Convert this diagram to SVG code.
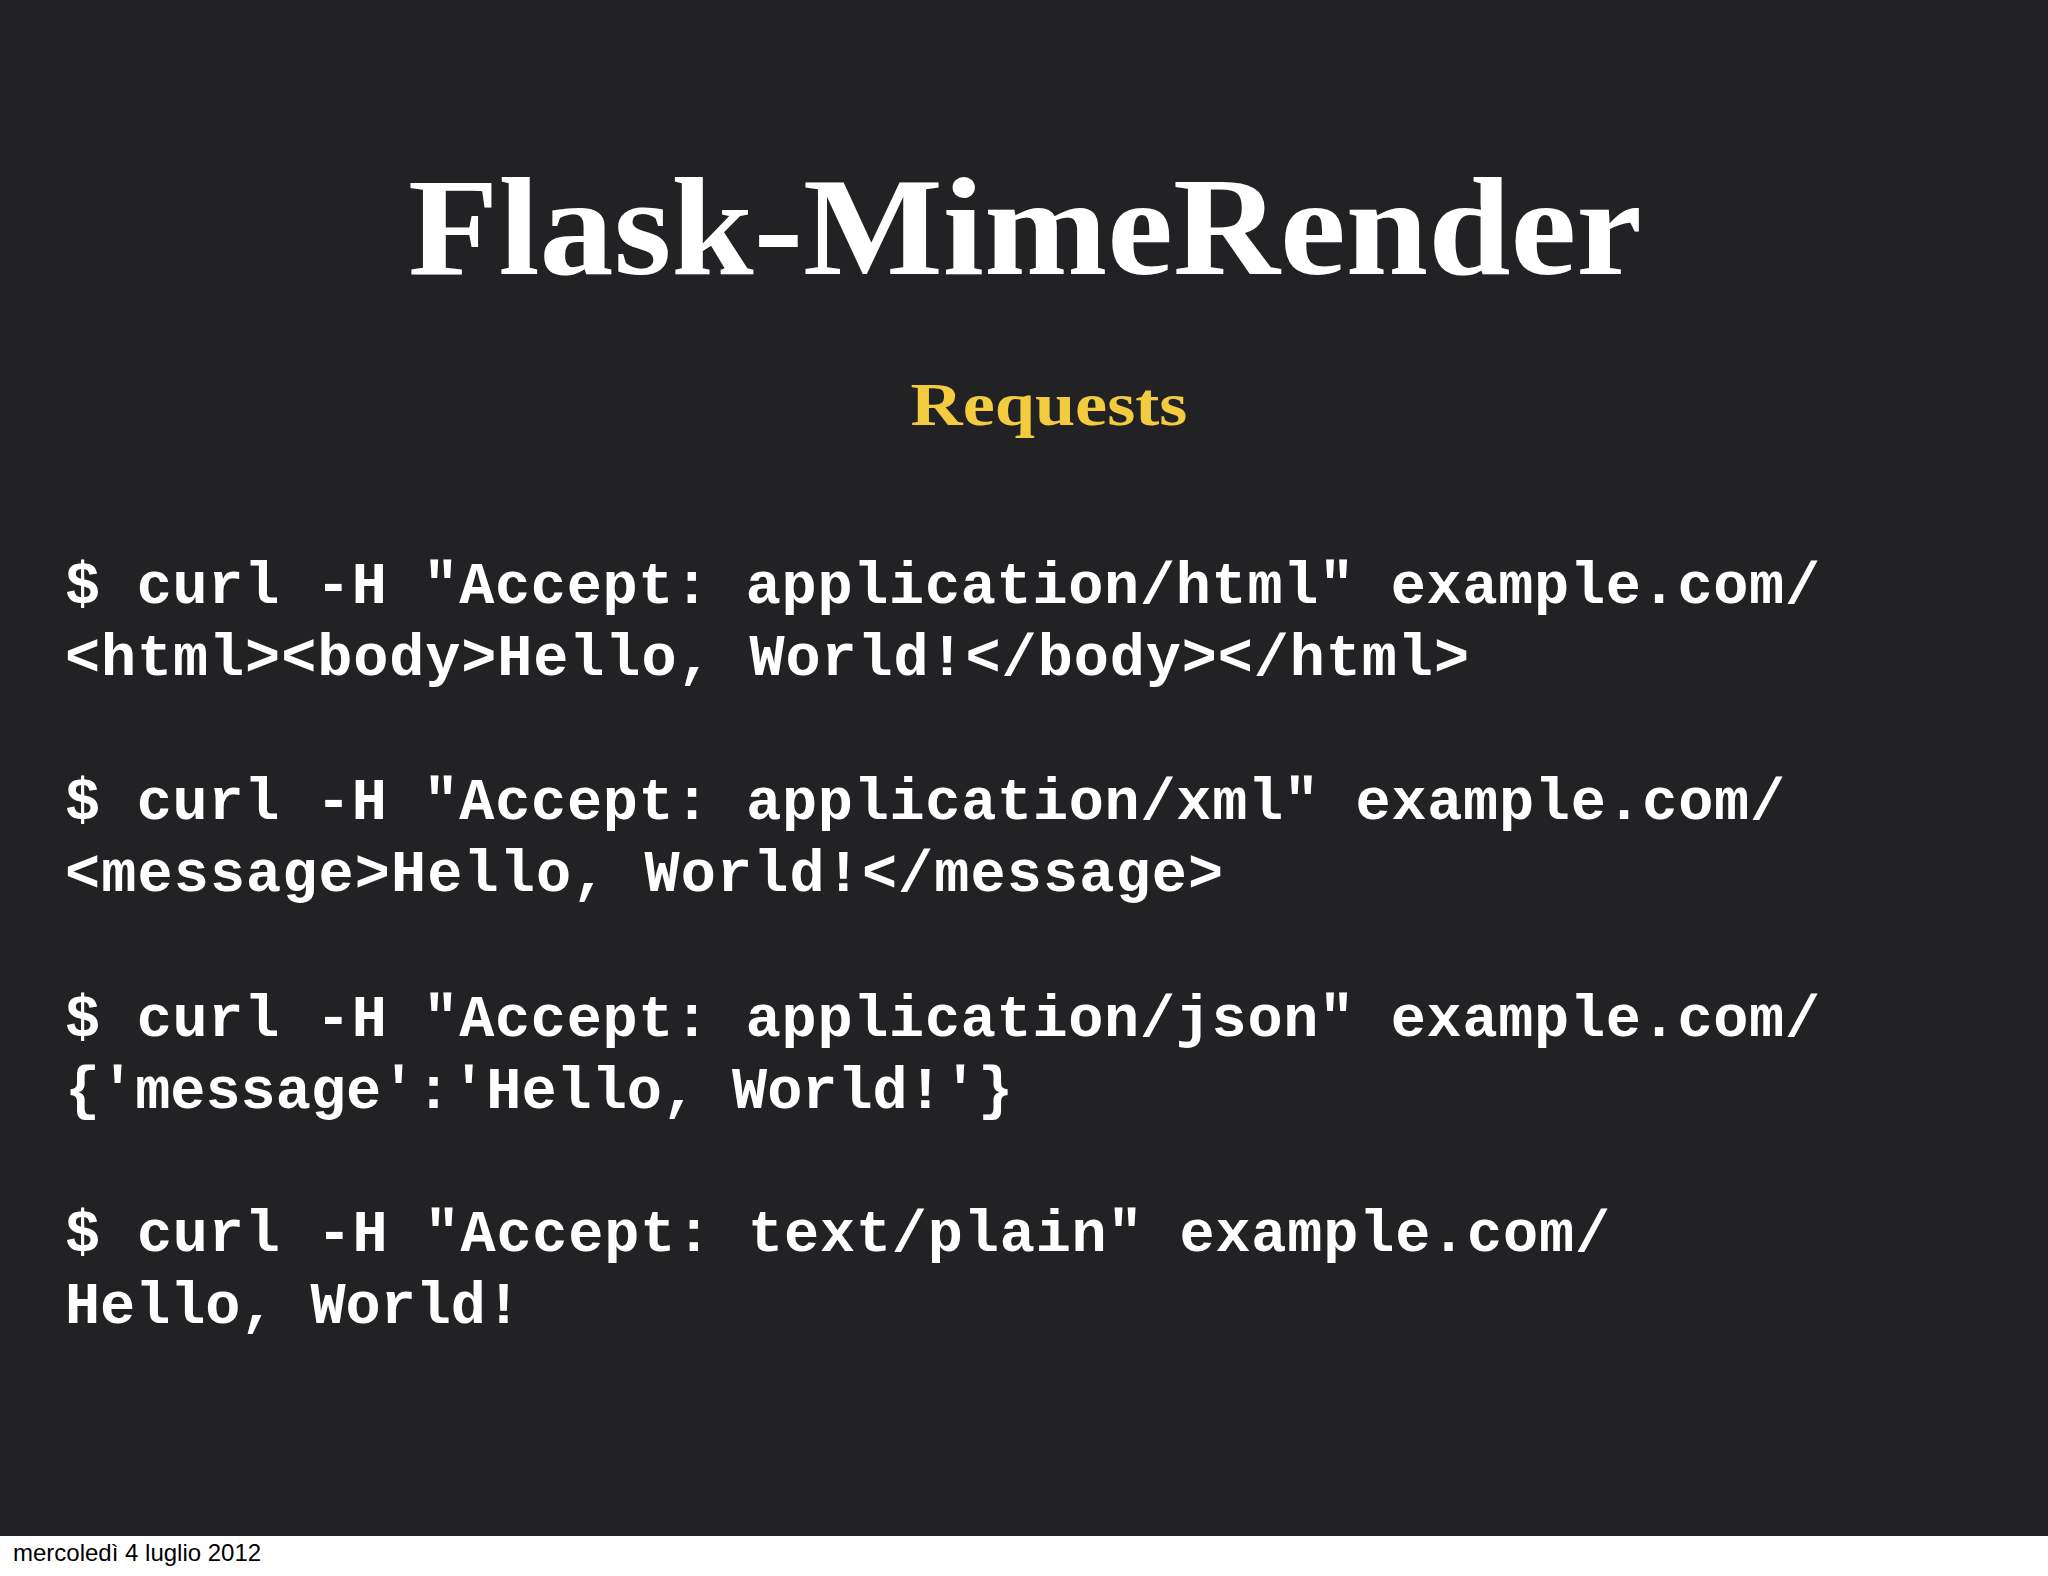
<svg xmlns="http://www.w3.org/2000/svg" width="2048" height="1576" viewBox="0 0 2048 1576">
<style>
.code{font-family:"Liberation Mono","Courier New",monospace;font-weight:bold;font-size:58.5px;fill:#ffffff}
</style>
<rect x="0" y="0" width="2048" height="1576" fill="#ffffff"/>
<rect x="0" y="0" width="2048" height="1536" fill="#222224"/>
<g id="title"><text x="1025" y="274" text-anchor="middle" font-family="Liberation Serif,serif" font-weight="bold" font-size="140" fill="#ffffff" textLength="1234" lengthAdjust="spacingAndGlyphs">Flask-MimeRender</text></g>
<g id="subtitle"><text x="1049" y="425" text-anchor="middle" font-family="Liberation Serif,serif" font-weight="bold" font-size="62" fill="#f2cb3e" textLength="277" lengthAdjust="spacingAndGlyphs">Requests</text></g>
<g id="code" xml:space="preserve">
<text class="code" x="65" y="603" textLength="1755">$ curl -H "Accept: application/html" example.com/</text>
<text class="code" x="65" y="675" textLength="1404">&lt;html&gt;&lt;body&gt;Hello, World!&lt;/body&gt;&lt;/html&gt;</text>
<text class="code" x="65" y="819" textLength="1720">$ curl -H "Accept: application/xml" example.com/</text>
<text class="code" x="65" y="891" textLength="1158">&lt;message&gt;Hello, World!&lt;/message&gt;</text>
<text class="code" x="65" y="1036" textLength="1755">$ curl -H "Accept: application/json" example.com/</text>
<text class="code" x="65" y="1108" textLength="948">{'message':'Hello, World!'}</text>
<text class="code" x="65" y="1251" textLength="1545">$ curl -H "Accept: text/plain" example.com/</text>
<text class="code" x="65" y="1323" textLength="456">Hello, World!</text>
</g>
<g id="date"><text x="13" y="1561" font-family="Liberation Sans,sans-serif" font-size="24" fill="#000000">mercoledì 4 luglio 2012</text></g>
</svg>
